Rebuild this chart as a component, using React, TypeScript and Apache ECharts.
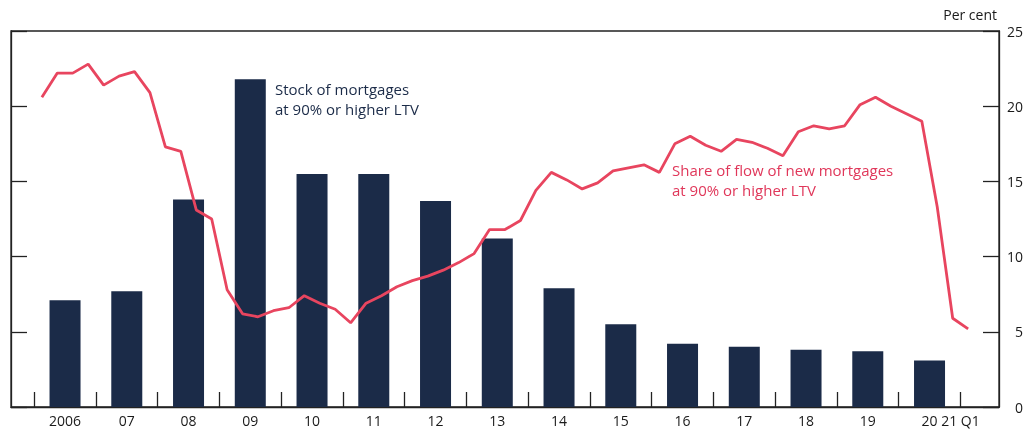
import React, { useEffect, useRef } from "react";
import * as echarts from "echarts";

const barYears = [2006, 2007, 2008, 2009, 2010, 2011, 2012, 2013, 2014, 2015, 2016, 2017, 2018, 2019, 2020];
const stockValues = [7.1, 7.7, 13.8, 21.8, 15.5, 15.5, 13.7, 11.2, 7.9, 5.5, 4.2, 4.0, 3.8, 3.7, 3.1];

const flowStartYear = 2006;
const flowValues = [
  20.6, 22.2, 22.2, 22.8,
  21.4, 22.0, 22.3, 20.9,
  17.3, 17.0, 13.1, 12.5,
  7.8, 6.2, 6.0, 6.4,
  6.6, 7.4, 6.9, 6.5,
  5.6, 6.9, 7.4, 8.0,
  8.4, 8.7, 9.1, 9.6,
  10.2, 11.8, 11.8, 12.4,
  14.4, 15.6, 15.1, 14.5,
  14.9, 15.7, 15.9, 16.1,
  15.6, 17.5, 18.0, 17.4,
  17.0, 17.8, 17.6, 17.2,
  16.7, 18.3, 18.7, 18.5,
  18.7, 20.1, 20.6, 20.0,
  19.5, 19.0, 13.3, 5.9,
  5.2,
];

const tickYears = [2006, 2007, 2008, 2009, 2010, 2011, 2012, 2013, 2014, 2015, 2016, 2017, 2018, 2019, 2020, 2021];
const xLabelPositions = [2006.5, 2007.5, 2008.5, 2009.5, 2010.5, 2011.5, 2012.5, 2013.5, 2014.5, 2015.5, 2016.5, 2017.5, 2018.5, 2019.5, 2020.5, 2021.0];
const xLabelTexts = ["2006", "07", "08", "09", "10", "11", "12", "13", "14", "15", "16", "17", "18", "19", "20", "21 Q1"];

const NAVY = "#1b2b48";
const RED = "#e8455f";
const TEXT = "#1a1a1a";
const FONT = "Open Sans";

export default function App() {
  const ref = useRef<HTMLDivElement>(null);

  useEffect(() => {
    if (!ref.current) return;
    const chart = echarts.init(ref.current, undefined, { renderer: "svg" });

    const barData = barYears.map((y, i) => [y + 0.5, stockValues[i]]);
    const lineData = flowValues.map((v, i) => [flowStartYear + (i + 0.5) / 4, v]);

    const yCommon = {
      type: "value" as const,
      min: 0,
      max: 25,
      interval: 5,
      splitLine: { show: false },
      axisLine: { show: true, lineStyle: { color: "#222", width: 1.3 } },
      axisTick: { show: true, inside: true, length: 16, lineStyle: { color: "#222", width: 1.3 } },
    };

    chart.setOption({
      animation: false,
      textStyle: { fontFamily: FONT },
      grid: {
        left: 11,
        right: 29,
        top: 31,
        bottom: 26,
        show: true,
        borderColor: "#222",
        borderWidth: 1.3,
        backgroundColor: "transparent",
      },
      xAxis: {
        type: "value",
        min: 2005.625,
        max: 2021.625,
        splitLine: { show: false },
        axisLine: { show: true, lineStyle: { color: "#222", width: 1.3 } },
        axisTick: {
          show: true,
          inside: true,
          length: 15,
          customValues: tickYears,
          lineStyle: { color: "#222", width: 1.3 },
        },
        axisLabel: {
          customValues: xLabelPositions,
          formatter: (v: number) => {
            const idx = xLabelPositions.findIndex((p) => Math.abs(p - v) < 1e-6);
            return idx >= 0 ? xLabelTexts[idx] : "";
          },
          color: TEXT,
          fontSize: 14,
          fontFamily: FONT,
          margin: 6,
        },
      },
      yAxis: [
        {
          ...yCommon,
          position: "left",
          axisLabel: { show: false },
        },
        {
          ...yCommon,
          position: "right",
          axisLabel: {
            show: true,
            color: TEXT,
            fontSize: 14,
            fontFamily: FONT,
            align: "right",
            margin: 24,
          },
        },
      ],
      series: [
        {
          type: "bar",
          data: barData,
          yAxisIndex: 1,
          barWidth: 31,
          itemStyle: { color: NAVY },
        },
        {
          type: "line",
          data: lineData,
          yAxisIndex: 1,
          showSymbol: false,
          symbol: "none",
          lineStyle: { color: RED, width: 2.8 },
        },
      ],
      graphic: [
        {
          type: "text",
          right: 31,
          top: 7,
          style: { text: "Per cent", fill: TEXT, font: `14px "${FONT}"` },
        },
        {
          type: "text",
          left: 275,
          top: 79,
          style: {
            text: "Stock of mortgages\nat 90% or higher LTV",
            fill: NAVY,
            font: `15px "${FONT}"`,
            lineHeight: 20,
          },
        },
        {
          type: "text",
          left: 672,
          top: 160,
          style: {
            text: "Share of flow of new mortgages\nat 90% or higher LTV",
            fill: "#e0375a",
            font: `15px "${FONT}"`,
            lineHeight: 20,
          },
        },
      ],
    });

    return () => chart.dispose();
  }, []);

  return <div ref={ref} style={{ position: "fixed", left: 0, top: 0, width: 1028, height: 433 }} />;
}
